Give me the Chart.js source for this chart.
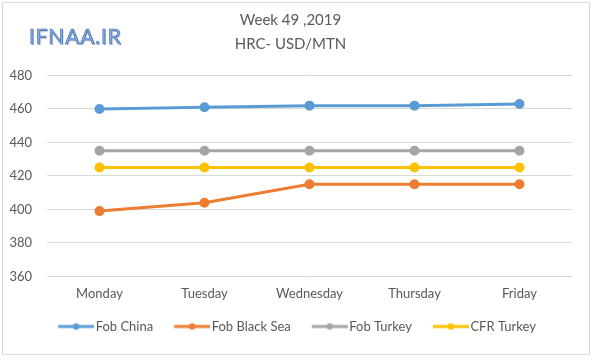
<!DOCTYPE html>
<html>
<head>
<meta charset="utf-8">
<script src="https://cdn.jsdelivr.net/npm/chart.js@4/dist/chart.umd.min.js"></script>
<style>
  html,body{margin:0;padding:0;background:#fff;}
  #wrap{position:relative;width:600px;height:361px;overflow:hidden;}
  #frame{position:absolute;left:2px;top:2px;width:588px;height:353px;border:1px solid #d9d9d9;box-sizing:border-box;pointer-events:none;}
  #wm{position:absolute;left:29px;top:23px;font-family:"Lato","DejaVu Sans",sans-serif;font-size:21px;color:#8fb4e6;letter-spacing:0.8px;
      -webkit-text-stroke:0.7px #3f6fb8; text-shadow:1px 1px 1px #b8b8b8;}
  canvas{position:absolute;left:0;top:0;}
</style>
</head>
<body>
<div id="wrap">
  <canvas id="c" width="600" height="361"></canvas>
  <div id="frame"></div>
  <div id="wm">IFNAA.IR</div>
</div>
<script>
const categories = ['Monday','Tuesday','Wednesday','Thursday','Friday'];
const fobChina = [460, 461, 462, 462, 463];
const fobBlackSea = [399, 404, 415, 415, 415];
const fobTurkey = [435, 435, 435, 435, 435];
const cfrTurkey = [425, 425, 425, 425, 425];
const seriesNames = ['Fob China','Fob Black Sea','Fob Turkey','CFR Turkey'];
const yTicks = [360, 380, 400, 420, 440, 460, 480];
const titleLines = ['Week 49 ,2019','HRC- USD/MTN'];

const colors = ['#5B9BD5','#ED7D31','#A5A5A5','#FFC000'];
const FONT = '"Lato","DejaVu Sans",sans-serif';

// legend icon: transparent lead-in, then line with marker (36px) at the right end
function legendIcon(color){
  const cv = document.createElement('canvas');
  cv.width = 54; cv.height = 10;
  const g = cv.getContext('2d');
  const x0 = 18;
  g.strokeStyle = color; g.lineWidth = 3; g.lineCap='butt';
  g.beginPath(); g.moveTo(x0,5); g.lineTo(x0+36,5); g.stroke();
  g.fillStyle = color; g.beginPath(); g.arc(x0+18,5,3.2,0,Math.PI*2); g.fill();
  return cv;
}

const allData = [fobChina, fobBlackSea, fobTurkey, cfrTurkey];
const datasets = allData.map((d,i)=>({
  label: seriesNames[i],
  data: d,
  borderColor: colors[i],
  backgroundColor: colors[i],
  borderWidth: 3,
  pointRadius: 3.5,
  pointHoverRadius: 3.5,
  pointBackgroundColor: colors[i],
  pointBorderColor: colors[i],
  tension: 0,
  pointStyle: 'circle'
}));

new Chart(document.getElementById('c'), {
  type: 'line',
  data: { labels: categories, datasets },
  options: {
    responsive: false,
    animation: false,
    layout: { padding: { left: 9, right: 28, top: 9, bottom: 18 } },
    plugins: {
      title: {
        display: true,
        text: titleLines,
        color: '#595959',
        font: { family: FONT, size: 15, weight: 'normal', lineHeight: 1.55 },
        padding: { top: 0, bottom: 20 }
      },
      legend: {
        position: 'bottom',
        labels: {
          color: '#595959',
          font: { family: FONT, size: 13 },
          usePointStyle: true,
          pointStyleWidth: 44,
          padding: 8,
          generateLabels(chart){
            return chart.data.datasets.map((ds,i)=>({
              text: ds.label,
              fillStyle: ds.borderColor,
              strokeStyle: ds.borderColor,
              fontColor: '#595959',
              pointStyle: legendIcon(ds.borderColor),
              datasetIndex: i,
              hidden: false,
              lineWidth: 0
            }));
          }
        }
      },
      tooltip: { enabled: false }
    },
    scales: {
      x: {
        offset: true,
        grid: { display: false, drawTicks: false },
        border: { display: false },
        ticks: { color: '#595959', font: { family: FONT, size: 13 }, padding: 10 }
      },
      y: {
        min: 360, max: 480,
        afterBuildTicks(axis){ axis.ticks = yTicks.map(v=>({value:v})); },
        afterFit(axis){ axis.width = 38; },
        grid: { color: '#d9d9d9', drawTicks: false, lineWidth: 1 },
        border: { display: false },
        ticks: { color: '#595959', font: { family: FONT, size: 13 }, padding: 15 }
      }
    }
  }
});
</script>
</body>
</html>
